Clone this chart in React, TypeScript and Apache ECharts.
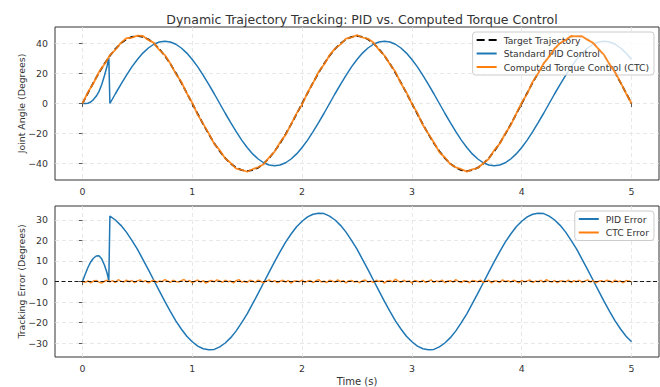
import React, { useEffect, useRef } from "react";
import * as echarts from "echarts";

const TITLE = "Dynamic Trajectory Tracking: PID vs. Computed Torque Control";
const FONT = "DejaVu Sans";
const BLUE = "#1f77b4";
const ORANGE = "#ff7f0e";

// sampling step of the main curves (s)
const STEP = 0.05;
const FINE_STEP = 0.025;

// Target trajectory, t = 0 .. 5 every 0.05 s
const TARGET = [
  0, 7.0, 13.9, 20.4, 26.5, 31.8, 36.4, 40.1, 42.8, 44.4, 45.0, 44.4, 42.8, 40.1, 36.4, 31.8, 26.5, 20.4, 13.9, 7.0,
  0, -7.0, -13.9, -20.4, -26.5, -31.8, -36.4, -40.1, -42.8, -44.4, -45.0, -44.4, -42.8, -40.1, -36.4, -31.8, -26.5, -20.4, -13.9, -7.0,
  0, 7.0, 13.9, 20.4, 26.5, 31.8, 36.4, 40.1, 42.8, 44.4, 45.0, 44.4, 42.8, 40.1, 36.4, 31.8, 26.5, 20.4, 13.9, 7.0,
  0, -7.0, -13.9, -20.4, -26.5, -31.8, -36.4, -40.1, -42.8, -44.4, -45.0, -44.4, -42.8, -40.1, -36.4, -31.8, -26.5, -20.4, -13.9, -7.0,
  0, 7.0, 13.9, 20.4, 26.5, 31.8, 36.4, 40.1, 42.8, 44.4, 45.0, 44.4, 42.8, 40.1, 36.4, 31.8, 26.5, 20.4, 13.9, 7.0,
  0,
];

// CTC trajectory, t = 0 .. 5 every 0.05 s
const CTC = [
  0, 7.5, 13.5, 21.0, 26.2, 32.2, 35.8, 40.4, 43.5, 43.9, 45.2, 45.0, 42.4, 40.4, 35.7, 32.3, 26.6, 19.9, 14.5, 6.8,
  0.4, -7.6, -13.6, -19.9, -26.9, -31.1, -36.6, -39.7, -43.4, -44.2, -45.5, -43.8, -42.5, -40.5, -35.9, -32.1, -25.8, -20.9, -13.7, -6.6,
  -0.6, 7.3, 13.7, 21.0, 26.0, 32.2, 36.6, 39.4, 43.3, 44.1, 45.6, 44.0, 43.1, 40.6, 35.8, 32.0, 26.2, 21.1, 13.5, 7.4,
  -0.2, -6.4, -14.4, -20.1, -26.0, -32.4, -36.0, -40.4, -42.6, -43.8, -45.4, -43.9, -43.0, -39.8, -37.0, -31.1, -26.8, -20.0, -14.4, -6.8,
  0.5, 6.6, 14.5, 20.1, 26.8, 31.2, 36.8, 40.3, 42.3, 45.0, 44.7, 44.9, 42.4, 40.4, 36.2, 32.4, 26.0, 20.8, 14.1, 6.7,
  0,
];

// PID start-up segment (before the re-initialisation at ~0.25 s)
const PID_START_T = [0, 0.025, 0.05, 0.075, 0.1, 0.125, 0.15, 0.175, 0.2, 0.225, 0.24];
const PID_START = [0, 0.0, 0.2, 1.0, 2.6, 4.8, 7.9, 12.5, 18.5, 25.2, 30.5];
const PID_ERR_START = [0, 3.5, 6.8, 9.5, 11.3, 12.4, 12.5, 11.0, 8.0, 4.0, 0.3];

// PID main segment, t = 0.25 .. 5 every 0.05 s
const PID_MAIN_T0 = 0.25;
const PID_MAIN = [
  0, 6.5, 12.8, 18.8, 24.4, 29.3, 33.6, 37.0, 39.5, 41.0, 41.5, 41.0, 39.5, 37.0, 33.6, 29.3, 24.4, 18.8, 12.8, 6.5,
  0, -6.5, -12.8, -18.8, -24.4, -29.3, -33.6, -37.0, -39.5, -41.0, -41.5, -41.0, -39.5, -37.0, -33.6, -29.3, -24.4, -18.8, -12.8, -6.5,
  0, 6.5, 12.8, 18.8, 24.4, 29.3, 33.6, 37.0, 39.5, 41.0, 41.5, 41.0, 39.5, 37.0, 33.6, 29.3, 24.4, 18.8, 12.8, 6.5,
  0, -6.5, -12.8, -18.8, -24.4, -29.3, -33.6, -37.0, -39.5, -41.0, -41.5, -41.0, -39.5, -37.0, -33.6, -29.3, -24.4, -18.8, -12.8, -6.5,
  0, 6.5, 12.8, 18.8, 24.4, 29.3, 33.6, 37.0, 39.5, 41.0, 41.5, 41.0, 39.5, 37.0, 33.6, 29.3,
];
const PID_ERR_MAIN = [
  31.8, 29.9, 27.3, 24.0, 20.0, 15.7, 10.8, 5.8, 0.6, -4.6, -9.7, -14.5, -19.1, -23.1, -26.6, -29.3, -31.4, -32.7, -33.2, -33.0,
  -31.8, -29.9, -27.3, -24.0, -20.0, -15.7, -10.8, -5.8, -0.6, 4.6, 9.7, 14.5, 19.1, 23.1, 26.6, 29.3, 31.4, 32.7, 33.2, 33.0,
  31.8, 29.9, 27.3, 24.0, 20.0, 15.7, 10.8, 5.8, 0.6, -4.6, -9.7, -14.5, -19.1, -23.1, -26.6, -29.3, -31.4, -32.7, -33.2, -33.0,
  -31.8, -29.9, -27.3, -24.0, -20.0, -15.7, -10.8, -5.8, -0.6, 4.6, 9.7, 14.5, 19.1, 23.1, 26.6, 29.3, 31.4, 32.7, 33.2, 33.0,
  31.8, 29.9, 27.3, 24.0, 20.0, 15.7, 10.8, 5.8, 0.6, -4.6, -9.7, -14.5, -19.1, -23.1, -26.6, -29.3,
];

// CTC tracking error, t = 0 .. 5 every 0.025 s
const CTC_ERR = [
  0, -0.4, 0.3, -0.6, 0.2, 0.5, -0.3, -0.8, 0.1, 0.6, -0.2, 0.4, -0.5, 0.9, 0.2, -0.3, 0.7, -0.1, 0.5, -0.6,
  0.3, 0.8, -0.2, 0.4, -0.7, 0.1, 0.6, -0.4, 0.2, -0.1, 0.9, 0.3, -0.5, 0.6, 0.0, -0.3, 0.4, 1.0, -0.2, 0.5,
  -0.6, 0.2, 0.7, -0.3, 0.4, -0.8, 0.1, 0.5, -0.2, 0.8, 0.3, -0.4, 0.6, -0.1, 0.2, -0.7, 0.4, 0.9, -0.3, 0.1,
  -0.5, 0.6, 0.2, -0.4, 0.7, 0.0, -0.6, 0.3, 0.8, -0.2, 0.4, -0.5, 0.1, 0.6, -0.3, 0.5, -0.8, 0.2, 0.3, -0.1,
  0.7, -0.4, 0.2, 0.5, -0.6, 0.3, 0.9, -0.2, 0.1, -0.5, 0.6, 0.2, -0.3, 0.8, -0.1, 0.4, -0.7, 0.3, 0.5, -0.2,
  0.1, -0.6, 0.4, 0.7, -0.3, 0.2, -0.5, 0.6, 0.0, 0.4, -0.8, 0.3, 0.5, -0.2, 1.1, 0.2, -0.4, 0.6, -0.1, 0.3,
  -0.7, 0.5, 0.1, -0.3, 0.6, -0.5, 0.2, 0.8, -0.4, 0.3, -0.1, 0.7, -0.6, 0.2, 0.4, -0.3, 0.9, 0.0, -0.5, 0.4,
  0.2, -0.6, 0.5, 0.3, -0.2, 0.7, -0.4, 0.1, 0.6, -0.7, 0.3, 0.2, -0.5, 0.8, -0.1, 0.4, -0.3, 0.6, 0.1, -0.6,
  0.5, -0.2, 0.3, 0.7, -0.5, 0.2, -0.1, 0.6, -0.4, 0.9, 0.1, -0.3, 0.5, -0.6, 0.3, 0.2, -0.2, 0.7, -0.5, 0.4,
  -0.1, 0.6, -0.4, 0.2, 0.8, -0.3, 0.5, -0.7, 0.1, 0.4, -0.2, 0.6, 0.3, -0.5, 0.7, -0.1, 0.2, -0.6, 0.5, 0.3,
  -0.2,
];

const LEGEND_TOP = ["Target Trajectory", "Standard PID Control", "Computed Torque Control (CTC)"];
const LEGEND_BOTTOM = ["PID Error", "CTC Error"];
const X_NAME = "Time (s)";
const Y_NAMES = ["Joint Angle (Degrees)", "Tracking Error (Degrees)"];
const X_RANGE = [-0.25, 5.25];
const Y_RANGES = [[-51, 51], [-36.7, 36.7]];

const SOLID_ICON = "path://M0,0h20v2h-20z";
const DASH_ICON = "path://M0,0h8v2h-8zM12,0h8v2h-8z";

const r = (v: number) => Math.round(v * 1000) / 1000;
const onGrid = (vals: number[], t0: number, step: number) => vals.map((v, i) => [r(t0 + i * step), v]);

const fmt = (v: number) => String(v).replace("-", "\u2212");

const SPLIT = {
  show: true,
  showMinLine: false,
  showMaxLine: false,
  lineStyle: { color: "#e2e2e2", type: [4, 3], width: 0.8 },
};

function mkX(idx: number, name: string) {
  return {
    type: "value",
    gridIndex: idx,
    min: X_RANGE[0],
    max: X_RANGE[1],
    name,
    nameLocation: "middle",
    nameGap: 19,
    nameMoveOverlap: false,
    nameTextStyle: { fontFamily: FONT, fontSize: 10, color: "#333" },
    axisLine: { show: false },
    axisTick: { show: true, length: 3.5, lineStyle: { color: "#333", width: 0.8 } },
    axisLabel: {
      fontFamily: FONT,
      fontSize: 9.4,
      color: "#333",
      margin: 6.5,
      showMinLabel: false,
      showMaxLabel: false,
      formatter: fmt,
    },
    splitLine: SPLIT,
  };
}

function mkY(idx: number) {
  return {
    type: "value",
    gridIndex: idx,
    min: Y_RANGES[idx][0],
    max: Y_RANGES[idx][1],
    name: Y_NAMES[idx],
    nameLocation: "middle",
    nameGap: 29,
    nameMoveOverlap: false,
    nameTextStyle: { fontFamily: FONT, fontSize: 9.4, color: "#333" },
    axisLine: { show: false },
    axisTick: { show: true, length: 3.5, lineStyle: { color: "#333", width: 0.8 } },
    axisLabel: {
      fontFamily: FONT,
      fontSize: 9.4,
      color: "#333",
      margin: 7,
      showMinLabel: false,
      showMaxLabel: false,
      formatter: fmt,
    },
    splitLine: SPLIT,
  };
}

function mkLegend(data: any[], top: number) {
  return {
    data,
    orient: "vertical",
    right: 6,
    top,
    itemWidth: 20,
    itemHeight: 2,
    itemGap: 3.5,
    padding: [3, 5, 3, 4],
    backgroundColor: "rgba(255,255,255,0.8)",
    borderColor: "#cccccc",
    borderWidth: 1,
    borderRadius: 3,
    textStyle: { fontFamily: FONT, fontSize: 9.2, color: "#333", lineHeight: 10, padding: [0, 0, 0, 2] },
  };
}

export default function App() {
  const ref = useRef<HTMLDivElement>(null);
  useEffect(() => {
    if (!ref.current) return;
    const chart = echarts.init(ref.current, undefined, { renderer: "svg" });

    const targetData = onGrid(TARGET, 0, STEP);
    const ctcData = onGrid(CTC, 0, STEP);
    const pidData = [
      ...PID_START.map((v, i) => [PID_START_T[i], v]),
      ...onGrid(PID_MAIN, PID_MAIN_T0, STEP),
    ];
    const pidErrData = [
      ...PID_ERR_START.map((v, i) => [PID_START_T[i], v]),
      ...onGrid(PID_ERR_MAIN, PID_MAIN_T0, STEP),
    ];
    const ctcErrData = onGrid(CTC_ERR, 0, FINE_STEP);

    const option: any = {
      animation: false,
      backgroundColor: "#ffffff",
      title: {
        text: TITLE,
        left: 357,
        top: 8,
        textAlign: "center",
        textStyle: { fontFamily: FONT, fontSize: 12.5, fontWeight: "normal", color: "#333" },
      },
      grid: [
        { left: 55, right: 1, top: 27, height: 153, show: true, borderColor: "#333", borderWidth: 1, backgroundColor: "transparent" },
        { left: 55, right: 1, top: 206, height: 153, show: true, borderColor: "#333", borderWidth: 1, backgroundColor: "transparent" },
      ],
      xAxis: [mkX(0, ""), mkX(1, X_NAME)],
      yAxis: [mkY(0), mkY(1)],
      legend: [
        mkLegend(
          [
            { name: LEGEND_TOP[0], icon: DASH_ICON },
            { name: LEGEND_TOP[1], icon: SOLID_ICON },
            { name: LEGEND_TOP[2], icon: SOLID_ICON },
          ],
          32
        ),
        mkLegend(
          [
            { name: LEGEND_BOTTOM[0], icon: SOLID_ICON },
            { name: LEGEND_BOTTOM[1], icon: SOLID_ICON },
          ],
          211
        ),
      ],
      series: [
        {
          name: LEGEND_TOP[0],
          type: "line",
          xAxisIndex: 0,
          yAxisIndex: 0,
          data: targetData,
          symbol: "none",
          lineStyle: { color: "#000", width: 1.7, type: [6, 3] },
          itemStyle: { color: "#000" },
          z: 2,
        },
        {
          name: LEGEND_TOP[1],
          type: "line",
          xAxisIndex: 0,
          yAxisIndex: 0,
          data: pidData,
          symbol: "none",
          lineStyle: { color: BLUE, width: 1.5 },
          itemStyle: { color: BLUE },
          z: 3,
        },
        {
          name: LEGEND_TOP[2],
          type: "line",
          xAxisIndex: 0,
          yAxisIndex: 0,
          data: ctcData,
          symbol: "none",
          lineStyle: { color: ORANGE, width: 1.8, opacity: 0.9 },
          itemStyle: { color: ORANGE },
          z: 4,
        },
        {
          type: "line",
          xAxisIndex: 1,
          yAxisIndex: 1,
          data: [],
          symbol: "none",
          z: 1,
          markLine: {
            silent: true,
            symbol: "none",
            label: { show: false },
            lineStyle: { color: "#000", width: 0.9, type: [4, 2.5] },
            data: [{ yAxis: 0 }],
          },
        },
        {
          name: LEGEND_BOTTOM[0],
          type: "line",
          xAxisIndex: 1,
          yAxisIndex: 1,
          data: pidErrData,
          symbol: "none",
          lineStyle: { color: BLUE, width: 1.5 },
          itemStyle: { color: BLUE },
          z: 3,
        },
        {
          name: LEGEND_BOTTOM[1],
          type: "line",
          xAxisIndex: 1,
          yAxisIndex: 1,
          data: ctcErrData,
          symbol: "none",
          lineStyle: { color: ORANGE, width: 1.5, opacity: 0.9 },
          itemStyle: { color: ORANGE },
          z: 4,
        },
      ],
    };
    chart.setOption(option);
    return () => chart.dispose();
  }, []);
  return <div ref={ref} style={{ position: "fixed", left: 0, top: 0, width: 660, height: 387 }} />;
}
